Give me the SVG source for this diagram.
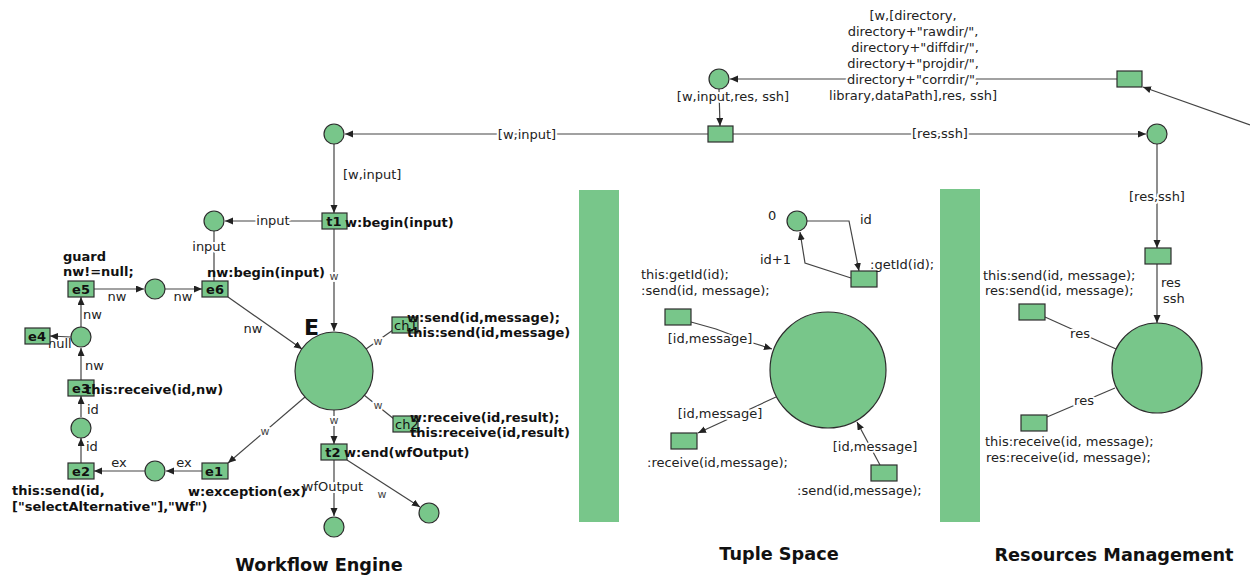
<svg xmlns="http://www.w3.org/2000/svg" width="1250" height="576" viewBox="0 0 1250 576">
  <style>
    .p { fill: #78c68a; stroke: #2d2d2d; stroke-width: 1.2; }
    .t { fill: #78c68a; stroke: #2d2d2d; stroke-width: 1.2; }
    .sep { fill: #78c68a; }
    .e { fill: none; stroke: #444; stroke-width: 1.2; }
    .a { marker-end: url(#ah); }
    text { font-family: "DejaVu Sans", "Liberation Sans", sans-serif; font-size: 13px; fill: #222; }
    .h { paint-order: stroke; stroke: #fff; stroke-width: 4px; stroke-linejoin: round; }
    .b { font-weight: bold; fill: #111; }
    .sm { font-size: 11px; fill: #444; }
    .mid { text-anchor: middle; }
    .title { font-weight: bold; font-size: 17.7px; fill: #111; text-anchor: middle; }
  </style>
  <defs>
    <marker id="ah" markerUnits="userSpaceOnUse" markerWidth="9" markerHeight="8" refX="8" refY="3.5" orient="auto">
      <path d="M0,0 L8,3.5 L0,7 z" fill="#222"/>
    </marker>
  </defs>

  <rect width="1250" height="576" fill="#fff"/>

  <!-- module separators -->
  <rect class="sep" x="579" y="190" width="40" height="332"/>
  <rect class="sep" x="940" y="189" width="40" height="333"/>

  <!-- connectors -->
  <g id="connectors">
    <!-- top distribution -->
    <line class="e a" x1="1117" y1="79" x2="730" y2="79"/>
    <line class="e a" x1="719" y1="89" x2="720" y2="126"/>
    <line class="e a" x1="708" y1="134" x2="345" y2="134"/>
    <line class="e a" x1="733" y1="134" x2="1146" y2="134"/>
    <line class="e a" x1="1250" y1="125" x2="1143" y2="87"/>

    <!-- workflow engine -->
    <line class="e a" x1="334" y1="144" x2="334" y2="213"/>
    <line class="e a" x1="322" y1="221" x2="225" y2="221"/>
    <line class="e" x1="214" y1="231" x2="214" y2="281"/>
    <line class="e a" x1="94" y1="289" x2="144" y2="289"/>
    <line class="e a" x1="165" y1="289" x2="202" y2="289"/>
    <line class="e a" x1="228" y1="297" x2="302" y2="349"/>
    <line class="e a" x1="334" y1="229" x2="334" y2="331"/>
    <line class="e" x1="366" y1="349" x2="393" y2="330"/>
    <line class="e" x1="364" y1="395" x2="394" y2="419"/>
    <line class="e a" x1="334" y1="410" x2="334" y2="444"/>
    <line class="e a" x1="334" y1="460" x2="334" y2="516"/>
    <line class="e a" x1="347" y1="460" x2="420" y2="507"/>
    <line class="e a" x1="305" y1="397" x2="228" y2="463"/>
    <line class="e a" x1="202" y1="471" x2="166" y2="471"/>
    <line class="e a" x1="145" y1="471" x2="94" y2="471"/>
    <line class="e a" x1="81" y1="463" x2="81" y2="438"/>
    <line class="e a" x1="81" y1="417" x2="81" y2="396"/>
    <line class="e a" x1="81" y1="380" x2="81" y2="348"/>
    <line class="e a" x1="71" y1="337" x2="50" y2="336"/>
    <line class="e a" x1="81" y1="327" x2="81" y2="297"/>

    <!-- tuple space -->
    <polyline class="e a" points="807,221 849,221 859,271"/>
    <polyline class="e a" points="851,278 805,263 800,232"/>
    <polyline class="e a" points="691,322 716,329 753,343 772,349"/>
    <line class="e a" x1="776" y1="397" x2="698" y2="433"/>
    <line class="e a" x1="880" y1="465" x2="857" y2="422"/>

    <!-- resources management -->
    <line class="e a" x1="1157" y1="144" x2="1157" y2="248"/>
    <line class="e a" x1="1157" y1="264" x2="1157" y2="323"/>
    <line class="e" x1="1045" y1="317" x2="1116" y2="349"/>
    <line class="e" x1="1115" y1="388" x2="1047" y2="417"/>
  </g>

  <!-- connector labels -->
  <g id="edge-labels">
    <text class="mid h" x="913" y="20">[w,[directory,</text>
    <text class="mid h" x="913" y="36">directory+"rawdir/",</text>
    <text class="mid h" x="915" y="52">directory+"diffdir/",</text>
    <text class="mid h" x="913" y="68">directory+"projdir/",</text>
    <text class="mid h" x="913" y="84">directory+"corrdir/",</text>
    <text class="mid h" x="913" y="100">library,dataPath],res, ssh]</text>
    <text class="mid h" x="733" y="101">[w,input,res, ssh]</text>
    <text class="mid h" x="527" y="139">[w,input]</text>
    <text class="mid h" x="940" y="138">[res,ssh]</text>

    <text x="343" y="179">[w,input]</text>
    <text class="mid h" x="273" y="225">input</text>
    <text class="mid h" x="209" y="251">input</text>
    <text class="mid" x="117" y="301">nw</text>
    <text class="mid" x="183" y="301">nw</text>
    <text class="mid h" x="253" y="333">nw</text>
    <text class="mid h sm" x="334" y="280">w</text>
    <text class="mid h sm" x="378" y="345">w</text>
    <text class="mid h sm" x="378" y="409">w</text>
    <text class="mid h sm" x="334" y="424">w</text>
    <text class="mid h" x="333" y="491">wfOutput</text>
    <text class="mid sm" x="382" y="498">w</text>
    <text class="mid h sm" x="265" y="435">w</text>
    <text class="mid" x="184" y="467">ex</text>
    <text class="mid" x="119" y="467">ex</text>
    <text x="86" y="451">id</text>
    <text x="87" y="414">id</text>
    <text x="85" y="370">nw</text>
    <text x="48" y="348">null</text>
    <text x="83" y="319">nw</text>

    <text x="768" y="220">0</text>
    <text x="860" y="224">id</text>
    <text x="760" y="264">id+1</text>
    <text class="mid h" x="710" y="343">[id,message]</text>
    <text class="mid h" x="720" y="418">[id,message]</text>
    <text class="mid h" x="875" y="451">[id,message]</text>

    <text class="mid h" x="1157" y="201">[res,ssh]</text>
    <text x="1161" y="287">res</text>
    <text x="1163" y="303">ssh</text>
    <text class="mid h" x="1080" y="338">res</text>
    <text class="mid h" x="1084" y="405">res</text>
  </g>

  <!-- top places and transitions -->
  <g id="p-top1"><circle class="p" cx="334" cy="134" r="10"/></g>
  <g id="p-top2"><circle class="p" cx="719" cy="79" r="10"/></g>
  <g id="p-top3"><circle class="p" cx="1157" cy="134" r="10"/></g>
  <g id="t-split"><rect class="t" x="708" y="126" width="25" height="16"/></g>
  <g id="t-config"><rect class="t" x="1117" y="71" width="25" height="16"/></g>

  <!-- workflow engine -->
  <g id="t1">
    <rect class="t" x="322" y="213" width="25" height="16"/>
    <text class="b mid" x="334" y="226">t1</text>
    <text class="b" x="345" y="227">w:begin(input)</text>
  </g>
  <g id="p-input"><circle class="p" cx="214" cy="221" r="10"/></g>
  <g id="e6">
    <rect class="t" x="202" y="281" width="26" height="16"/>
    <text class="b mid" x="215" y="294">e6</text>
    <text class="b" x="207" y="277">nw:begin(input)</text>
  </g>
  <g id="p-nw"><circle class="p" cx="155" cy="289" r="10"/></g>
  <g id="e5">
    <rect class="t" x="68" y="281" width="26" height="16"/>
    <text class="b mid" x="81" y="294">e5</text>
    <text class="b" x="63" y="261">guard</text>
    <text class="b" x="63" y="276">nw!=null;</text>
  </g>
  <g id="p-null"><circle class="p" cx="81" cy="337" r="10"/></g>
  <g id="e4">
    <rect class="t" x="25" y="328" width="25" height="16"/>
    <text class="b mid" x="37" y="341">e4</text>
  </g>
  <g id="e3">
    <rect class="t" x="68" y="380" width="26" height="16"/>
    <text class="b mid" x="81" y="393">e3</text>
    <text class="b" x="85" y="394">this:receive(id,nw)</text>
  </g>
  <g id="p-id"><circle class="p" cx="81" cy="428" r="10"/></g>
  <g id="e2">
    <rect class="t" x="68" y="463" width="26" height="16"/>
    <text class="b mid" x="81" y="476">e2</text>
    <text class="b" x="12" y="495">this:send(id,</text>
    <text class="b" x="12" y="511">["selectAlternative"],"Wf")</text>
  </g>
  <g id="p-ex"><circle class="p" cx="155" cy="471" r="10"/></g>
  <g id="e1">
    <rect class="t" x="202" y="463" width="26" height="16"/>
    <text class="b mid" x="214" y="476">e1</text>
    <text class="b" x="188" y="496">w:exception(ex)</text>
  </g>
  <g id="p-engine">
    <circle class="p" cx="334" cy="371" r="39"/>
    <text class="b" x="304" y="335" style="font-size:22px">E</text>
  </g>
  <g id="ch1">
    <rect class="t" x="392" y="317" width="26" height="16"/>
    <text x="394" y="330" style="fill:#111">ch1</text>
    <text class="b" x="407" y="322">w:send(id,message);</text>
    <text class="b" x="407" y="337">this:send(id,message)</text>
  </g>
  <g id="ch2">
    <rect class="t" x="393" y="416" width="25" height="16"/>
    <text x="395" y="429" style="fill:#111">ch2</text>
    <text class="b" x="410" y="422">w:receive(id,result);</text>
    <text class="b" x="410" y="437">this:receive(id,result)</text>
  </g>
  <g id="t2">
    <rect class="t" x="321" y="444" width="26" height="16"/>
    <text class="b mid" x="333" y="457">t2</text>
    <text class="b" x="344" y="457">w:end(wfOutput)</text>
  </g>
  <g id="p-out1"><circle class="p" cx="334" cy="527" r="10"/></g>
  <g id="p-out2"><circle class="p" cx="429" cy="513" r="10"/></g>

  <!-- tuple space -->
  <g id="p-counter"><circle class="p" cx="797" cy="221" r="10"/></g>
  <g id="t-getid">
    <rect class="t" x="851" y="271" width="26" height="16"/>
    <text x="870" y="269">:getId(id);</text>
  </g>
  <g id="p-space"><circle class="p" cx="828" cy="370" r="58"/></g>
  <g id="t-send-in">
    <rect class="t" x="665" y="309" width="26" height="16"/>
    <text x="641" y="279">this:getId(id);</text>
    <text x="641" y="295">:send(id, message);</text>
  </g>
  <g id="t-receive">
    <rect class="t" x="671" y="433" width="26" height="16"/>
    <text x="647" y="467">:receive(id,message);</text>
  </g>
  <g id="t-send">
    <rect class="t" x="871" y="465" width="26" height="16"/>
    <text x="797" y="495">:send(id,message);</text>
  </g>

  <!-- resources management -->
  <g id="t-res-init"><rect class="t" x="1145" y="248" width="26" height="16"/></g>
  <g id="p-res"><circle class="p" cx="1157" cy="368" r="45"/></g>
  <g id="t-res-send">
    <rect class="t" x="1019" y="304" width="26" height="16"/>
    <text x="983" y="280">this:send(id, message);</text>
    <text x="985" y="295">res:send(id, message);</text>
  </g>
  <g id="t-res-receive">
    <rect class="t" x="1021" y="415" width="26" height="16"/>
    <text x="985" y="446">this:receive(id, message);</text>
    <text x="986" y="462">res:receive(id, message);</text>
  </g>

  <!-- module titles -->
  <text class="title" x="319" y="571">Workflow Engine</text>
  <text class="title" x="779" y="560">Tuple Space</text>
  <text class="title" x="1114" y="561">Resources Management</text>
</svg>
